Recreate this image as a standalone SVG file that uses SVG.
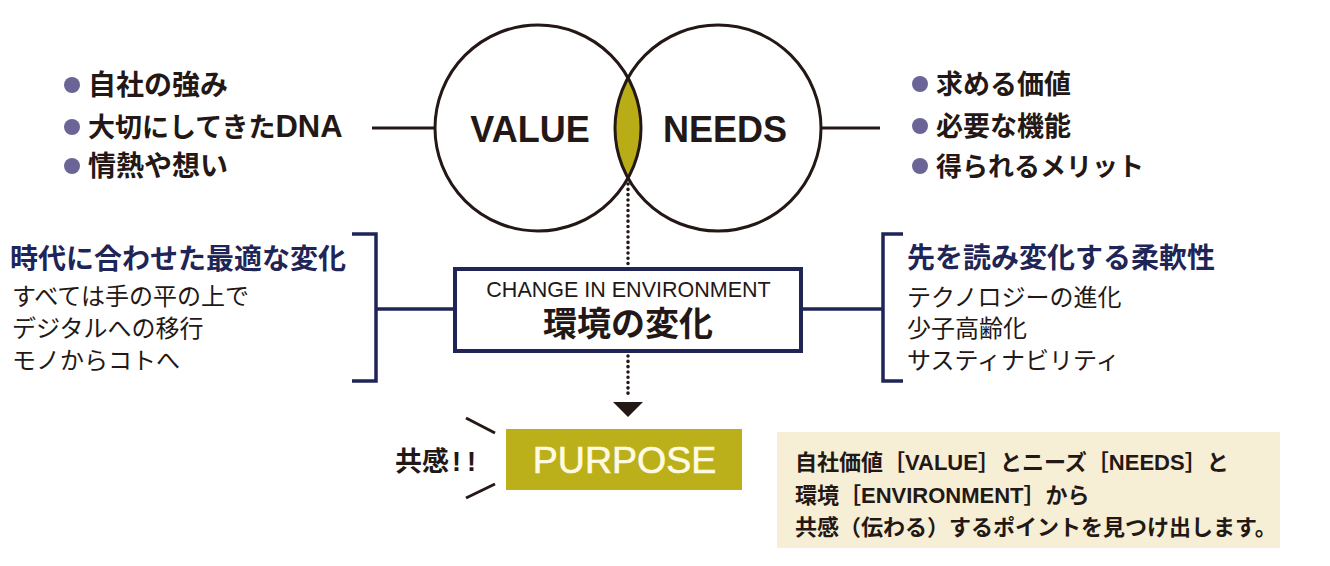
<svg xmlns="http://www.w3.org/2000/svg" width="1330" height="566" viewBox="0 0 1330 566">
<style>
text{font-family:"Liberation Sans","Noto Sans CJK JP",sans-serif;fill:#231815}
.b{font-weight:bold}
.navy{fill:#1f2556}
.ln{stroke:#231815;stroke-width:3;fill:none}
.nv{stroke:#1f2556;stroke-width:3.5;fill:none}
.dot{stroke:#231815;stroke-width:3.5;stroke-linecap:round;stroke-dasharray:0.1 5.2;fill:none}
.bul{fill:#6b6597}
</style>
<rect width="1330" height="566" fill="#ffffff"/>
<g id="connectors">
<line class="ln" x1="372" y1="128" x2="435" y2="128"/>
<line class="ln" x1="821" y1="128" x2="880" y2="128"/>
<path class="nv" d="M352,234 H376 V381 H352"/>
<line class="nv" x1="376" y1="309" x2="455" y2="309"/>
<path class="nv" d="M903,234 H883 V381 H903"/>
<line class="nv" x1="801" y1="309" x2="883" y2="309"/>
<line class="dot" x1="628" y1="184" x2="628" y2="265"/>
<line class="dot" x1="628" y1="356" x2="628" y2="398"/>
<polygon points="613,402 643,402 628,417" fill="#231815"/>
<line class="ln" x1="466" y1="418" x2="495" y2="433"/>
<line class="ln" x1="466" y1="498" x2="495" y2="484"/>
</g>
<g id="venn">
<path d="M628,78 A103,103 0 0,1 628,178 A103,103 0 0,1 628,78 Z" fill="#b9ad17"/>
<circle class="ln" cx="538" cy="128" r="103"/>
<circle class="ln" cx="718" cy="128" r="103"/>
<text class="b" x="530" y="142" font-size="36" text-anchor="middle">VALUE</text>
<text class="b" x="725" y="142" font-size="36" text-anchor="middle">NEEDS</text>
</g>
<g id="value-list">
<circle class="bul" cx="72" cy="85" r="8"/>
<circle class="bul" cx="72" cy="127" r="8"/>
<circle class="bul" cx="72" cy="166" r="8"/>
<text class="b" x="88" y="95" font-size="28">自社の強み</text>
<text class="b" x="88" y="137" font-size="27">大切にしてきた<tspan font-size="31">DNA</tspan></text>
<text class="b" x="88" y="176" font-size="28">情熱や想い</text>
</g>
<g id="needs-list">
<circle class="bul" cx="920" cy="84" r="8"/>
<circle class="bul" cx="920" cy="126" r="8"/>
<circle class="bul" cx="920" cy="166" r="8"/>
<text class="b" x="936" y="94" font-size="27">求める価値</text>
<text class="b" x="936" y="136" font-size="27">必要な機能</text>
<text class="b" x="936" y="176" font-size="26">得られるメリット</text>
</g>
<g id="left-change">
<text class="b navy" x="10" y="269" font-size="28">時代に合わせた最適な変化</text>
<text x="12" y="305" font-size="24">すべては手の平の上で</text>
<text x="12" y="337" font-size="24">デジタルへの移行</text>
<text x="12" y="369" font-size="24">モノからコトへ</text>
</g>
<g id="right-change">
<text class="b navy" x="907" y="268" font-size="28">先を読み変化する柔軟性</text>
<text x="907" y="306" font-size="24">テクノロジーの進化</text>
<text x="907" y="337" font-size="24">少子高齢化</text>
<text x="907" y="369" font-size="24">サスティナビリティ</text>
</g>
<g id="environment">
<rect x="455" y="269" width="346" height="82" fill="#ffffff" stroke="#1f2556" stroke-width="4"/>
<text x="628.5" y="297" font-size="21.5" text-anchor="middle">CHANGE IN ENVIRONMENT</text>
<text class="b" x="628" y="336" font-size="34" text-anchor="middle">環境の変化</text>
</g>
<g id="purpose">
<rect x="506" y="429" width="236" height="61" fill="#bcb01a"/>
<text x="624.5" y="473" font-size="37.5" text-anchor="middle" style="fill:#fffbe3;stroke:#fffbe3;stroke-width:0.6">PURPOSE</text>
</g>
<g id="kyokan">
<text class="b" x="395" y="471" font-size="27">共感<tspan x="452">!</tspan><tspan x="467">!</tspan></text>
</g>
<g id="note">
<rect x="777" y="432" width="503" height="116" fill="#f6efd5"/>
<text class="b" x="795" y="470" font-size="22">自社価値［VALUE］とニーズ［NEEDS］と</text>
<text class="b" x="795" y="503" font-size="22">環境［ENVIRONMENT］から</text>
<text class="b" x="795" y="535" font-size="22">共感（伝わる）するポイントを見つけ出します。</text>
</g>
</svg>
